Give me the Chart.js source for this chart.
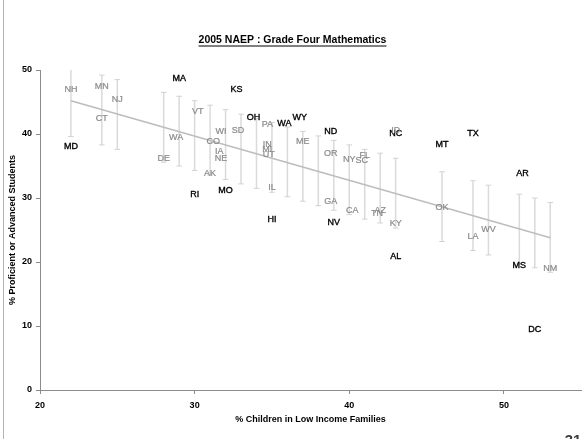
<!DOCTYPE html>
<html>
<head>
<meta charset="utf-8">
<script src="https://cdn.jsdelivr.net/npm/chart.js@4.4.1/dist/chart.umd.min.js"></script>
<style>
  html, body { margin: 0; padding: 0; background: #ffffff; }
  canvas { display: block; }
</style>
</head>
<body>
<canvas id="naep" width="585" height="439"></canvas>
<script>
// Chart text
const chartTitle = '2005 NAEP : Grade Four Mathematics';
const xTitle = '% Children in Low Income Families';
const yTitle = '% Proficient or Advanced Students';
const slideNumber = '31';

// States whose score stands apart from the fitted line (dark labels)
const darkStates = ['MA', 'KS', 'OH', 'WA', 'WY', 'ND', 'NC', 'MT', 'TX', 'AR',
                    'MD', 'RI', 'MO', 'HI', 'NV', 'AL', 'MS', 'DC'];
const darkLowIncome = [29.0, 32.7, 33.8, 35.8, 36.8, 38.8, 43.0, 46.0, 48.0, 51.2,
                       22.0, 30.0, 32.0, 35.0, 39.0, 43.0, 51.0, 52.0];
const darkProficient = [48.7, 46.9, 42.6, 41.7, 42.6, 40.4, 40.0, 38.3, 40.1, 33.9,
                        38.0, 30.6, 31.1, 26.7, 26.1, 20.8, 19.4, 9.5];

// States within the expected range (grey labels)
const greyStates = ['NH', 'MN', 'NJ', 'CT', 'VT', 'WA', 'DE', 'CO', 'WI', 'SD', 'IA',
                    'NE', 'AK', 'PA', 'ME', 'IN', 'MI', 'UT', 'IL', 'OR', 'NY', 'SC',
                    'FL', 'GA', 'CA', 'TN', 'AZ', 'KY', 'ID', 'OK', 'LA', 'WV', 'NM'];
const greyLowIncome = [22.0, 24.0, 25.0, 24.0, 30.2, 28.8, 28.0, 31.2, 31.7, 32.8, 31.6,
                       31.7, 31.0, 34.7, 37.0, 34.7, 34.7, 34.8, 35.0, 38.8, 40.0, 40.8,
                       41.0, 38.8, 40.2, 41.8, 42.0, 43.0, 43.0, 46.0, 48.0, 49.0, 53.0];
const greyProficient = [46.9, 47.4, 45.4, 42.4, 43.5, 39.4, 36.1, 38.8, 40.4, 40.6, 37.3,
                        36.1, 33.8, 41.5, 38.8, 38.3, 37.6, 36.8, 31.7, 37.0, 36.0, 35.8,
                        36.6, 29.5, 28.0, 27.6, 28.0, 26.0, 40.5, 28.5, 24.0, 25.1, 19.0];

// Expected-range bars along the fitted line
const bandX    = [22, 24, 25, 28, 29, 30, 31, 32, 33, 34, 35, 36, 37,
                  38, 39, 40, 41, 42, 43, 46, 48, 49, 51, 52, 53];
const bandHigh = [50.5, 49.2, 48.5, 46.5, 45.9, 45.2, 44.5, 43.8, 43.1, 42.4, 41.8, 41.1, 40.4,
                  39.7, 39.0, 38.3, 37.6, 37.0, 36.2, 34.1, 32.7, 32.0, 30.6, 30.0, 29.3];
const bandLow  = [39.6, 38.3, 37.6, 35.6, 35.0, 34.3, 33.6, 32.9, 32.2, 31.5, 30.9, 30.2, 29.5,
                  28.8, 28.1, 27.4, 26.7, 26.1, 25.3, 23.2, 21.8, 21.1, 19.7, 19.1, 18.4];

// Fitted trend line end points
const trendX = [22, 53];
const trendY = [45.2, 23.8];

const FONT = '"Liberation Sans", Arial, Helvetica, sans-serif';

function toPoints(xs, ys) {
  return xs.map((x, i) => ({ x: x, y: ys[i] }));
}

// Each bar is a two-point segment; a null point breaks the line between bars
const bandPoints = [];
bandX.forEach((x, i) => {
  bandPoints.push({ x: x, y: bandLow[i] });
  bandPoints.push({ x: x, y: bandHigh[i] });
  bandPoints.push({ x: x, y: null });
});

// Writes each state's abbreviation at its point
const stateLabels = {
  id: 'stateLabels',
  afterDatasetsDraw(chart) {
    const ctx = chart.ctx;
    ctx.save();
    ctx.font = '9px ' + FONT;
    ctx.textAlign = 'center';
    ctx.textBaseline = 'middle';
    chart.data.datasets.forEach((ds, di) => {
      if (!ds.stateNames) return;
      const meta = chart.getDatasetMeta(di);
      ctx.fillStyle = ds.labelColor;
      ctx.strokeStyle = ds.labelColor;
      ctx.lineWidth = ds.labelStroke;
      meta.data.forEach((pt, i) => {
        ctx.fillText(ds.stateNames[i], pt.x, pt.y);
        ctx.strokeText(ds.stateNames[i], pt.x, pt.y);
      });
    });
    ctx.restore();
  }
};

// Underline under the chart title
const titleUnderline = {
  id: 'titleUnderline',
  afterDraw(chart) {
    const tb = chart.titleBlock;
    if (!tb) return;
    const ctx = chart.ctx;
    ctx.save();
    ctx.font = 'bold 10.5px ' + FONT;
    const w = ctx.measureText(chartTitle).width;
    const cx = (tb.left + tb.right) / 2;
    const y = tb.top + 34 + 11.5;
    ctx.strokeStyle = '#000';
    ctx.lineWidth = 1;
    ctx.beginPath();
    ctx.moveTo(cx - w / 2, y + 0.5);
    ctx.lineTo(cx + w / 2, y + 0.5);
    ctx.stroke();
    ctx.restore();
  }
};

// Page frame: white fill, left edge rule and the partly visible slide number
const pageFrame = {
  id: 'pageFrame',
  beforeDraw(chart) {
    const ctx = chart.ctx;
    ctx.save();
    ctx.fillStyle = '#ffffff';
    ctx.fillRect(0, 0, chart.width, chart.height);
    ctx.strokeStyle = '#b4b4b4';
    ctx.lineWidth = 1;
    ctx.beginPath();
    ctx.moveTo(3.5, 0);
    ctx.lineTo(3.5, chart.height);
    ctx.stroke();
    ctx.restore();
  },
  afterDraw(chart) {
    const ctx = chart.ctx;
    ctx.save();
    ctx.font = 'bold 15px ' + FONT;
    ctx.fillStyle = '#3a3a3a';
    ctx.textAlign = 'center';
    ctx.textBaseline = 'top';
    ctx.fillText(slideNumber, 573, 433);
    ctx.restore();
  }
};

new Chart(document.getElementById('naep'), {
  type: 'scatter',
  data: {
    datasets: [
      {
        label: 'dark',
        data: toPoints(darkLowIncome, darkProficient),
        stateNames: darkStates,
        labelColor: '#000000',
        labelStroke: 0.35,
        pointRadius: 0,
        pointHoverRadius: 0
      },
      {
        label: 'grey',
        data: toPoints(greyLowIncome, greyProficient),
        stateNames: greyStates,
        labelColor: '#8a8a8a',
        labelStroke: 0.2,
        pointRadius: 0,
        pointHoverRadius: 0
      },
      {
        label: 'trend',
        type: 'line',
        data: toPoints(trendX, trendY),
        borderColor: '#bdbdbd',
        borderWidth: 1.5,
        pointRadius: 0,
        pointHoverRadius: 0,
        fill: false
      },
      {
        label: 'band',
        type: 'line',
        data: bandPoints,
        spanGaps: false,
        borderColor: '#dadada',
        borderWidth: 1.5,
        pointStyle: 'line',
        pointRadius: 2.8,
        pointBorderWidth: 1,
        pointBorderColor: '#d2d2d2',
        pointHoverRadius: 0,
        fill: false
      }
    ]
  },
  options: {
    responsive: false,
    animation: false,
    events: [],
    layout: { padding: { left: 0, right: 0, top: 0, bottom: 0 } },
    plugins: {
      legend: { display: false },
      tooltip: { enabled: false },
      title: {
        display: true,
        text: chartTitle,
        color: '#000000',
        font: { family: FONT, size: 10.5, weight: 'bold', lineHeight: 1.2 },
        padding: { top: 34, bottom: 23.4 }
      }
    },
    scales: {
      x: {
        type: 'linear',
        position: 'bottom',
        min: 20,
        max: 55,
        afterFit(scale) { scale.height = 49; },
        ticks: {
          stepSize: 10,
          includeBounds: false,
          maxRotation: 0,
          color: '#000000',
          padding: 6,
          font: { family: FONT, size: 9, weight: 'bold' }
        },
        grid: { drawOnChartArea: false, drawTicks: true, tickLength: 4, color: '#8c8c8c' },
        border: { display: true, color: '#8c8c8c', width: 1 },
        title: {
          display: true,
          text: xTitle,
          color: '#000000',
          font: { family: FONT, size: 9, weight: 'bold', lineHeight: 1.2 },
          padding: { top: 0, bottom: 14.5 }
        }
      },
      y: {
        type: 'linear',
        min: 0,
        max: 50,
        afterFit(scale) { scale.width = 40; },
        ticks: {
          stepSize: 10,
          color: '#000000',
          padding: 4,
          font: { family: FONT, size: 9, weight: 'bold' }
        },
        grid: { drawOnChartArea: false, drawTicks: true, tickLength: 4, color: '#8c8c8c' },
        border: { display: true, color: '#8c8c8c', width: 1 },
        title: {
          display: true,
          text: yTitle,
          color: '#000000',
          font: { family: FONT, size: 9, weight: 'bold', lineHeight: 1.2 },
          padding: { top: 7, bottom: 0 }
        }
      }
    }
  },
  plugins: [pageFrame, stateLabels, titleUnderline]
});
</script>
</body>
</html>
